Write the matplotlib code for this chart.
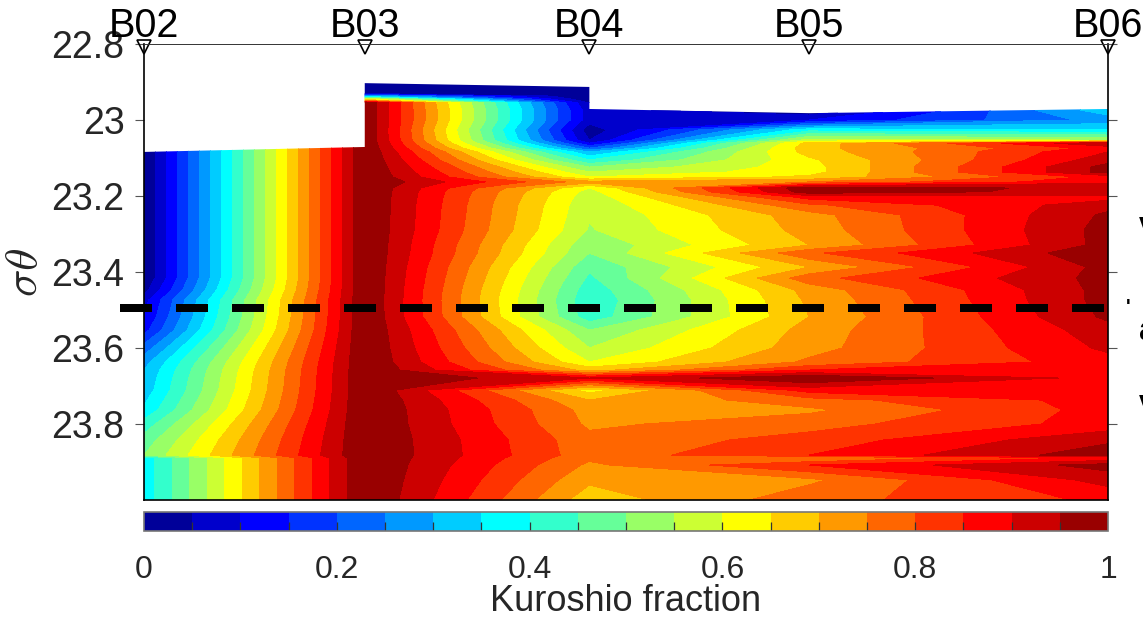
import numpy as np
import matplotlib
matplotlib.use('Agg')
import matplotlib.pyplot as plt
from matplotlib.colors import ListedColormap
from matplotlib.path import Path

plt.rcParams['font.family'] = ['Liberation Sans', 'DejaVu Sans']
plt.rcParams['mathtext.fontset'] = 'cm'

stations = ['B02', 'B03', 'B04', 'B05', 'B06']
station_x = [0.0, 0.229, 0.462, 0.690, 1.0]

sigma = [22.903, 22.929, 22.937, 22.945, 22.955, 22.974, 23.000, 23.026, 23.053, 23.061,
         23.074, 23.084, 23.105, 23.124, 23.137, 23.150, 23.163, 23.179, 23.189, 23.203,
         23.224, 23.250, 23.289, 23.329, 23.350, 23.387, 23.416, 23.447, 23.474, 23.518,
         23.553, 23.600, 23.637, 23.658, 23.679, 23.711, 23.737, 23.763, 23.800, 23.842,
         23.882, 23.889, 23.908, 23.947, 24.000]

b02 = [0, 0, 0, 0, 0, 0, 0, 0, 0, 0,
       0, 0, 0, 0, 0, 0, 0, 0, 0, 0,
       0, 0, 0, 0, 0, 0, 0, .03, .08, .10,
       .13, .22, .28, .30, .31, .32, .34, .36, .42, .47,
       .50, .37, .37, .37, .37]
b03 = [0, 0, .3, .6, 1, 1, 1, 1, 1, 1,
       1, 1, 1, 1, 1, 1, 1, 1, 1, 1,
       1, 1, 1, 1, 1, 1, 1, 1, 1, 1,
       1, 1, 1, 1, 1, 1, 1, 1, 1, 1,
       1, 1, 1, 1, 1]
b04 = [0, 0, 0, 0, .05, .07, .07, .02, .05, .10,
       .20, .30, .40, .50, .55, .60, .72, .60, .58, .57,
       .56, .555, .545, .51, .50, .46, .44, .42, .41, .42,
       .50, .55, .60, .68, .90, .63, .70, .73, .74, .765,
       .77, .76, .74, .71, .67]
b05 = [0, 0, 0, 0, 0, 0, .10, .38, .57, .67,
       .68, .67, .64, .63, .63, .66, .75, .99, .98, .87,
       .79, .73, .72, .70, .79, .70, .78, .72, .71, .70,
       .72, .73, .76, .85, 1.0, .87, .78, .74, .78, .82,
       .85, .74, .85, .74, .78]
b06 = [.33, .33, .33, .33, .33, .33, .27, .35, .55, .95,
       .87, .90, .93, .97, .97, .87, .89, .93, .93, .88,
       .93, .96, .97, .97, .99, .97, .97, .97, .97, .96,
       .93, .91, .88, .88, .88, .88, .87, .87, .87, .94,
       .98, .86, .97, .92, .86]

# borde superior de los datos
top_x = [0.0, 0.229, 0.229, 0.462, 0.462, 0.690, 1.0]
top_sigma = [23.084, 23.071, 22.903, 22.913, 22.971, 22.982, 22.971]

colors = ['#000099', '#0000CC', '#0000FF', '#0033FF', '#0066FF', '#0099FF', '#00CCFF',
          '#00FFFF', '#33FFCC', '#66FF99', '#99FF66', '#CCFF33', '#FFFF00', '#FFCC00',
          '#FF9900', '#FF6600', '#FF3300', '#FF0000', '#CC0000', '#990000']
levels = np.linspace(0, 1, 21)

W, H = 1143, 618
fig = plt.figure(figsize=(W / 100, H / 100), dpi=100)
ax = fig.add_axes([144 / W, 1 - 500 / H, 964 / W, 456 / H])
cax = fig.add_axes([144 / W, 1 - 531 / H, 964 / W, 19 / H])

Z = np.array([b02, b03, b04, b05, b06]).T
cf = ax.contourf(station_x, sigma, Z, levels=levels, cmap=ListedColormap(colors))

clip_verts = list(zip(top_x, top_sigma)) + [(1.0, 24.0), (0.0, 24.0), (0.0, top_sigma[0])]
cf.set_clip_path(Path(clip_verts), ax.transData)

ax.set_xlim(0, 1)
ax.set_ylim(24.0, 22.8)
ax.set_xticks([])
ax.set_yticks([22.8, 23, 23.2, 23.4, 23.6, 23.8])
ax.set_yticklabels(['22.8', '23', '23.2', '23.4', '23.6', '23.8'], color='#262626')
ax.tick_params(axis='y', direction='out', length=6.5, width=0.8, color='#555555',
               labelsize=27, pad=7.5, left=True, right=True)
ax.set_ylabel(r'$\sigma\theta$', fontsize=33, color='#262626', labelpad=3)
for side in ['left', 'right', 'bottom']:
    ax.spines[side].set_linewidth(1.2)
ax.spines['top'].set_linewidth(0.7)
ax.spines['top'].set_color('#333333')

ax.plot(station_x, [22.807] * 5, 'v', ms=9.5, mfc='none', mec='black', mew=1.2, clip_on=False)
for name, x in zip(stations, station_x):
    ax.annotate(name, xy=(x, 22.8), xytext=(0, 5), textcoords='offset points',
                ha='center', va='baseline', fontsize=28.5, annotation_clip=False)

ax.plot([-0.025, 0.996], [23.494, 23.494], color='black', lw=5.76, dashes=(4, 3),
        dash_capstyle='butt', clip_on=False)

cb = fig.colorbar(cf, cax=cax, orientation='horizontal', ticks=[0, 0.2, 0.4, 0.6, 0.8, 1])
cb.set_ticklabels(['0', '0.2', '0.4', '0.6', '0.8', '1'])
cb.ax.tick_params(axis='x', which='both', length=0, labelsize=23, pad=17, labelcolor='#262626')
cb.ax.vlines(levels[1:-1], 0, 0.45, color='#333333', lw=0.9, transform=cb.ax.get_xaxis_transform())
cb.outline.set_edgecolor('#777777')
cb.outline.set_linewidth(1.2)
fig.text(626 / W, 1 - 611 / H, 'Kuroshio fraction', fontsize=26, color='#262626',
         ha='center', va='baseline')

# restos de texto cortados por el borde derecho
for frag, py in [('v', 235), ('a', 340), ('v', 413)]:
    fig.text(1139 / W, 1 - py / H, frag, fontsize=24, fontweight='bold', ha='left', va='baseline')
fig.text(1128 / W, 1 - 312 / H, '\'', fontsize=14, fontweight='bold', ha='center', va='baseline')

fig.savefig('out.png', dpi=100)
